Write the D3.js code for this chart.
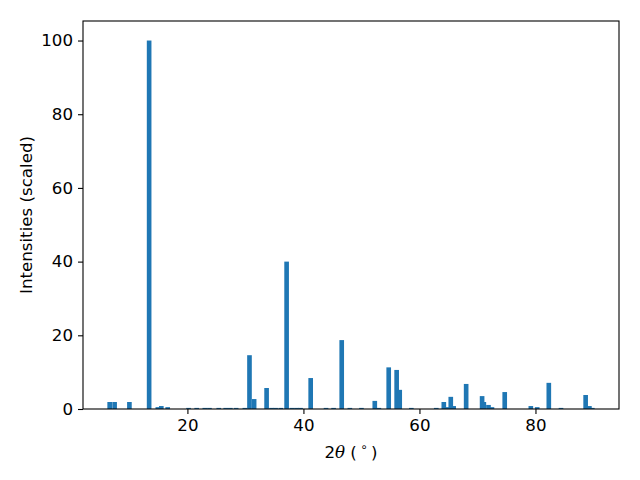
<!DOCTYPE html>
<html>
<head>
<meta charset="utf-8">
<script src="https://cdn.jsdelivr.net/npm/d3@7"></script>
<style>
  html, body { margin: 0; padding: 0; background: #fff; }
  svg { display: block; font-family: "DejaVu Sans", sans-serif; }
</style>
</head>
<body>
<svg id="chart" width="640" height="480"></svg>
<script>
// 2-theta positions (degrees) and scaled intensities
const twoTheta = [6.6, 7.45, 10.0, 13.4, 14.9, 15.5, 16.6, 20.2, 21.6, 23.0, 23.8, 25.4, 26.6, 27.4, 28.4,
  29.9, 30.7, 31.5, 33.65, 34.5, 35.2, 36.1, 37.1, 38.0, 38.8, 39.5, 41.25, 43.9, 45.2, 46.6, 48.0,
  50.0, 52.3, 53.0, 54.7, 56.07, 56.6, 58.6, 62.9, 64.2, 64.9, 65.4, 65.9, 68.05, 70.8, 71.1, 71.9,
  72.5, 74.7, 79.2, 80.3, 82.3, 84.4, 88.65, 89.3, 89.8];
const intensity = [1.9, 1.9, 1.9, 100, 0.5, 0.8, 0.5, 0.3, 0.3, 0.3, 0.3, 0.3, 0.3, 0.3, 0.3,
  0.3, 14.6, 2.7, 5.7, 0.3, 0.3, 0.3, 40.0, 0.3, 0.3, 0.3, 8.4, 0.3, 0.3, 18.7, 0.3,
  0.3, 2.2, 0.3, 11.3, 10.6, 5.2, 0.3, 0.3, 1.9, 0.5, 3.3, 0.8, 6.8, 3.5, 1.9, 1.1,
  0.5, 4.6, 0.8, 0.5, 7.1, 0.3, 3.8, 0.8, 0.3];
const xTicks = [20, 40, 60, 80];
const yTicks = [0, 20, 40, 60, 80, 100];
const barWidth = 0.8;

const FS = 16.67;
const svg = d3.select("#chart");
const m = { left: 83, top: 21, right: 619, bottom: 409 };
const x = d3.scaleLinear().domain([2.0, 94.4]).range([m.left, m.right]);
const y = d3.scaleLinear().domain([0, 105.3]).range([m.bottom, m.top]);

const data = twoTheta.map((t, i) => ({ t, v: intensity[i] }));

svg.append("g").selectAll("rect").data(data).join("rect")
  .attr("x", d => x(d.t - barWidth / 2))
  .attr("width", d => x(d.t + barWidth / 2) - x(d.t - barWidth / 2))
  .attr("y", d => y(d.v))
  .attr("height", d => y(0) - y(d.v))
  .attr("fill", "#1f77b4");

const xAxis = svg.append("g").attr("transform", `translate(0,${m.bottom})`)
  .call(d3.axisBottom(x).tickValues(xTicks).tickSize(5).tickPadding(5).tickFormat(d3.format("d")));
const yAxis = svg.append("g").attr("transform", `translate(${m.left},0)`)
  .call(d3.axisLeft(y).tickValues(yTicks).tickSize(5).tickPadding(5).tickFormat(d3.format("d")));
[xAxis, yAxis].forEach(g => {
  g.select(".domain").remove();
  g.selectAll("line").attr("stroke", "#000").attr("stroke-width", 1.1);
  g.selectAll("text").attr("font-size", FS).attr("font-family", "DejaVu Sans").attr("fill", "#000");
});

// frame
svg.append("rect").attr("x", m.left).attr("y", m.top)
  .attr("width", m.right - m.left).attr("height", m.bottom - m.top)
  .attr("fill", "none").attr("stroke", "#000").attr("stroke-width", 1.1);

// x label
const xl = svg.append("text").attr("x", (m.left + m.right) / 2).attr("y", 458)
  .attr("text-anchor", "middle").attr("font-size", FS).attr("fill", "#000");
xl.append("tspan").text("2");
xl.append("tspan").attr("font-style", "italic").attr("font-family", "DejaVu Serif, DejaVu Sans").text("θ");
xl.append("tspan").text(" (\u2009");
xl.append("tspan").attr("font-size", 12).attr("dy", -7).text("\u2218");
xl.append("tspan").attr("dy", 7).text("\u2009)");

// y label
svg.append("text").attr("transform", `translate(32,${(m.top + m.bottom) / 2}) rotate(-90)`)
  .attr("text-anchor", "middle").attr("font-size", FS).attr("fill", "#000")
  .text("Intensities (scaled)");
</script>
</body>
</html>
